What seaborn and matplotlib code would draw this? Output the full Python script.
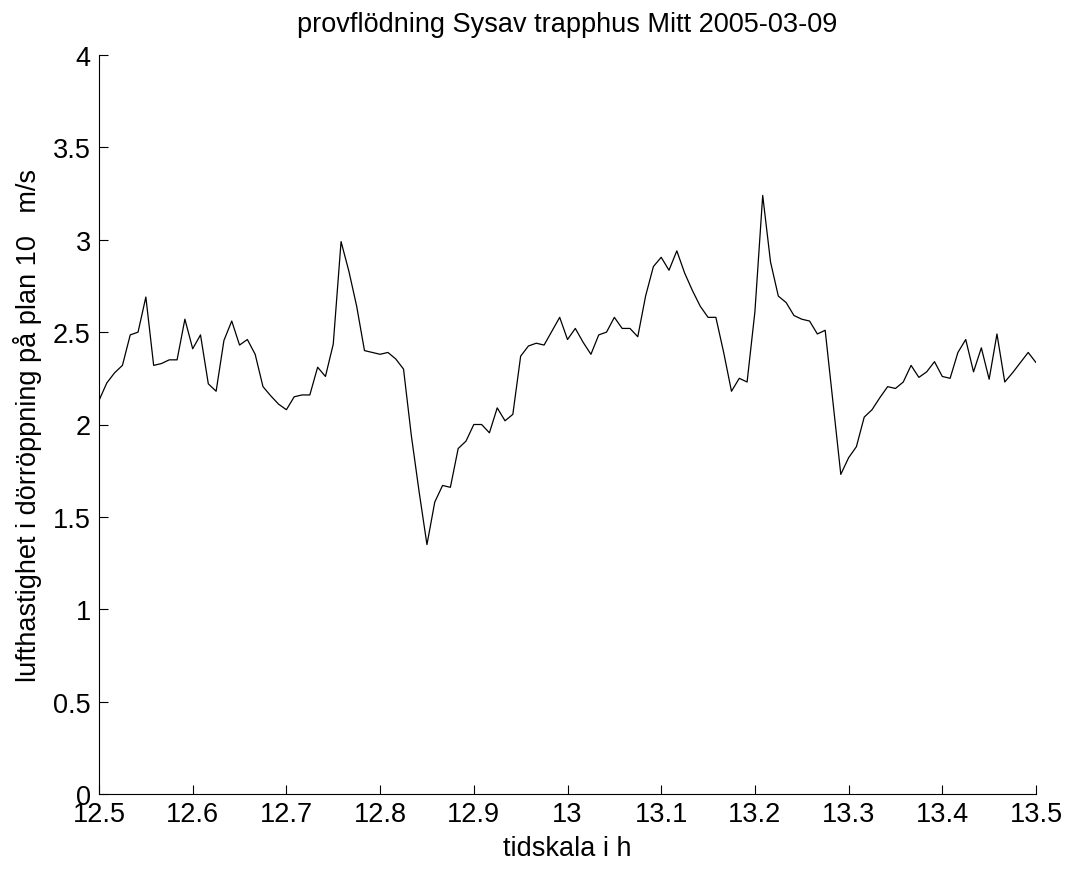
import numpy as np
import pandas as pd
import matplotlib
matplotlib.use('Agg')
import matplotlib.pyplot as plt
import seaborn as sns

# one sample every 30 s from 12.5 h
START_H = 12.5
STEP_H = 1 / 120

velocity = [
    2.13, 2.225, 2.28, 2.32, 2.485, 2.50, 2.69, 2.32, 2.33, 2.35,
    2.35, 2.57, 2.41, 2.485, 2.22, 2.18, 2.455, 2.56, 2.43, 2.46,
    2.38, 2.205, 2.155, 2.11, 2.08, 2.15, 2.16, 2.16, 2.31, 2.26,
    2.435, 2.99, 2.83, 2.64, 2.40, 2.39, 2.38, 2.39, 2.355, 2.30,
    1.94, 1.635, 1.35, 1.58, 1.67, 1.66, 1.87, 1.91, 2.00, 2.00,
    1.955, 2.09, 2.02, 2.055, 2.37, 2.425, 2.44, 2.43, 2.505, 2.58,
    2.46, 2.52, 2.445, 2.38, 2.485, 2.50, 2.58, 2.52, 2.52, 2.475,
    2.695, 2.855, 2.905, 2.835, 2.94, 2.82, 2.725, 2.64, 2.58, 2.58,
    2.39, 2.18, 2.25, 2.23, 2.61, 3.24, 2.88, 2.695, 2.66, 2.59,
    2.57, 2.56, 2.49, 2.51, 2.12, 1.73, 1.82, 1.88, 2.04, 2.08,
    2.145, 2.205, 2.195, 2.23, 2.32, 2.255, 2.285, 2.34, 2.26, 2.25,
    2.39, 2.46, 2.285, 2.415, 2.245, 2.49, 2.23, 2.28, 2.335, 2.39,
    2.335,
]

x_ticks = [12.5, 12.6, 12.7, 12.8, 12.9, 13.0, 13.1, 13.2, 13.3, 13.4, 13.5]
x_tick_labels = ['12.5', '12.6', '12.7', '12.8', '12.9', '13',
                 '13.1', '13.2', '13.3', '13.4', '13.5']
y_ticks = [0, 0.5, 1, 1.5, 2, 2.5, 3, 3.5, 4]
y_tick_labels = ['0', '0.5', '1', '1.5', '2', '2.5', '3', '3.5', '4']

title = 'provflödning Sysav trapphus Mitt 2005-03-09'
x_label = 'tidskala i h'
y_label = 'lufthastighet i dörröppning på plan 10   m/s'

sns.set_style('ticks')
plt.rcParams['font.family'] = ['Liberation Sans', 'DejaVu Sans']
plt.rcParams['text.color'] = 'black'
plt.rcParams['axes.labelcolor'] = 'black'
FS = 19.5

df = pd.DataFrame({
    'tid': START_H + np.arange(len(velocity)) * STEP_H,
    'v': velocity,
})

fig = plt.figure(figsize=(10.71, 8.70), dpi=100)
ax = fig.add_axes([99 / 1071, 1 - 795 / 870, (1036 - 99) / 1071, (795 - 56) / 870])

sns.lineplot(data=df, x='tid', y='v', ax=ax, color='black', linewidth=0.9)

ax.set_xlim(12.5, 13.5)
ax.set_ylim(0, 4)
ax.set_xticks(x_ticks)
ax.set_xticklabels(x_tick_labels)
ax.set_yticks(y_ticks)
ax.set_yticklabels(y_tick_labels)
ax.tick_params(direction='in', length=6.5, width=0.8, labelsize=FS, colors='black')
ax.tick_params(axis='x', pad=5)
ax.tick_params(axis='y', pad=6)

sns.despine(ax=ax)
for s in ('left', 'bottom'):
    ax.spines[s].set_linewidth(0.8)
    ax.spines[s].set_color('black')

ax.set_title(title, fontsize=FS, pad=17, color='black')
ax.set_xlabel(x_label, fontsize=FS, labelpad=6, color='black')
ax.set_ylabel(y_label, fontsize=FS, labelpad=8, color='black')

fig.savefig('out.png', dpi=100, facecolor='white')
